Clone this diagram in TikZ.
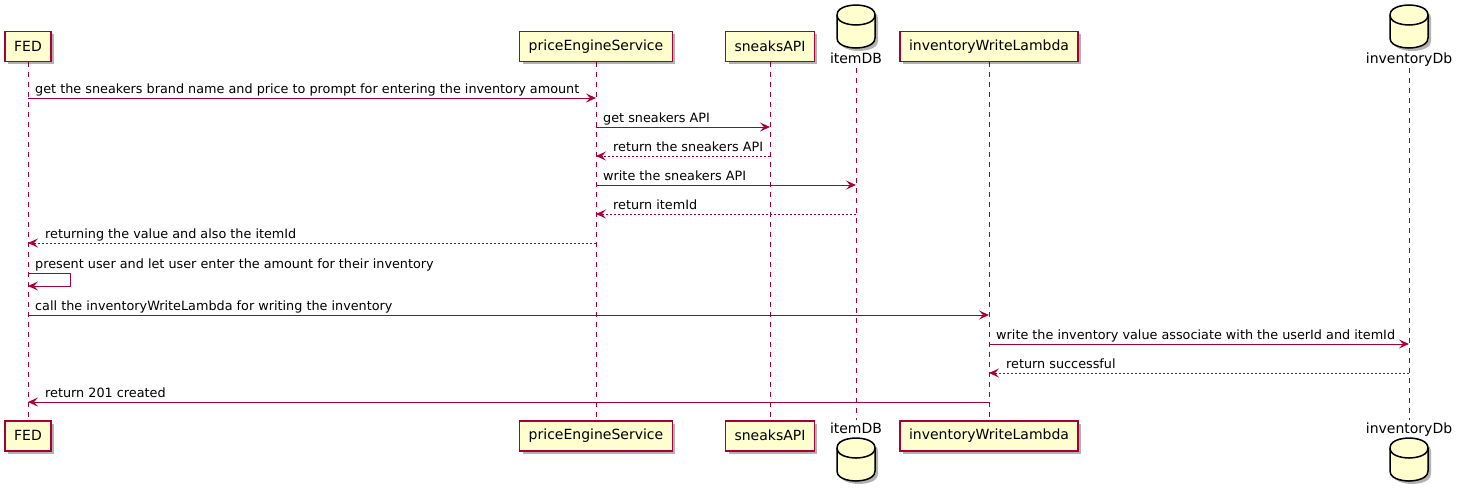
\documentclass[tikz,border=0pt]{standalone}
\usepackage{fontspec}
\setmainfont{DejaVu Sans}
\usetikzlibrary{arrows.meta,shadows}
\definecolor{umlred}{HTML}{A80036}
\definecolor{umlfill}{HTML}{FEFECE}
\tikzset{
  part/.style={draw=umlred, line width=1.5pt, fill=umlfill, minimum height=30pt,
    inner xsep=9pt, inner ysep=0pt, font=\fontsize{14}{16}\selectfont,
    drop shadow={shadow xshift=3pt, shadow yshift=-3pt, opacity=0.3, fill=black}},
  dbshape/.style={draw=black, line width=1.5pt, fill=umlfill,
    drop shadow={shadow xshift=3pt, shadow yshift=-3pt, opacity=0.3, fill=black}},
  dblabel/.style={anchor=base, inner sep=0pt, font=\fontsize{14}{16}\selectfont},
  life/.style={draw=umlred, line width=0.9pt, dash pattern=on 5pt off 5pt},
  msg/.style={draw=umlred, line width=0.9pt, -{Stealth[length=10pt,width=9pt,inset=4pt]}},
  ret/.style={msg, dash pattern=on 2pt off 2pt},
  lbl/.style={anchor=base west, inner sep=0pt, font=\fontsize{12.8}{15}\selectfont},
}
\newcommand{\dbcyl}[2]{% center x, top y
  \path[dbshape] (#1-19,#2+10) .. controls (#1-19,#2) and (#1,#2) .. (#1,#2)
    .. controls (#1,#2) and (#1+19,#2) .. (#1+19,#2+10) -- (#1+19,#2+33)
    .. controls (#1+19,#2+43) and (#1,#2+43) .. (#1,#2+43)
    .. controls (#1,#2+43) and (#1-19,#2+43) .. (#1-19,#2+33) -- cycle;
  \draw[line width=1.5pt] (#1-19,#2+10) .. controls (#1-19,#2+20) and (#1,#2+20) .. (#1,#2+20)
    .. controls (#1,#2+20) and (#1+19,#2+20) .. (#1+19,#2+10);
}
\begin{document}
\begin{tikzpicture}[x=1pt,y=-1pt]
\useasboundingbox (0,0) rectangle (1457,488);

% lifeline anchors
\coordinate (fedT) at (28,62);   \coordinate (fedB) at (28,420);
\coordinate (pesT) at (596,62);  \coordinate (pesB) at (596,420);
\coordinate (snkT) at (770,62);  \coordinate (snkB) at (770,420);
\coordinate (itmT) at (856,68);  \coordinate (itmB) at (856,420);
\coordinate (lamT) at (989,62);  \coordinate (lamB) at (989,420);
\coordinate (invT) at (1409,68); \coordinate (invB) at (1409,420);

\foreach \a/\b in {fedT/fedB,pesT/pesB,snkT/snkB,itmT/itmB,lamT/lamB,invT/invB}
  \draw[life] (\a) -- (\b);

% participants top
\node[part, anchor=south] (fed1) at (fedT) {FED};
\node[part, anchor=south] (pes1) at (pesT) {priceEngineService};
\node[part, anchor=south] (snk1) at (snkT) {sneaksAPI};
\node[part, anchor=south] (lam1) at (lamT) {inventoryWriteLambda};
\dbcyl{856}{5}
\node[dblabel] (itm1) at (856,63) {itemDB};
\dbcyl{1409}{5}
\node[dblabel] (inv1) at (1409,63) {inventoryDb};

% participants bottom
\node[part, anchor=north] (fed2) at (fedB) {FED};
\node[part, anchor=north] (pes2) at (pesB) {priceEngineService};
\node[part, anchor=north] (snk2) at (snkB) {sneaksAPI};
\node[part, anchor=north] (lam2) at (lamB) {inventoryWriteLambda};
\node[dblabel] (itm2) at (856,433) {itemDB};
\dbcyl{856}{438}
\node[dblabel] (inv2) at (1409,433) {inventoryDb};
\dbcyl{1409}{438}

% message endpoints
\coordinate (m1a) at (28,98);   \coordinate (m1b) at (596,98);
\coordinate (m2a) at (596,127); \coordinate (m2b) at (770,127);
\coordinate (m3a) at (770,156); \coordinate (m3b) at (596,156);
\coordinate (m4a) at (596,185); \coordinate (m4b) at (856,185);
\coordinate (m5a) at (856,214); \coordinate (m5b) at (596,214);
\coordinate (m6a) at (596,243); \coordinate (m6b) at (28,243);
\coordinate (m7a) at (28,273);  \coordinate (m7c) at (70,273);
\coordinate (m7d) at (70,286);  \coordinate (m7b) at (28,286);
\coordinate (m8a) at (28,315);  \coordinate (m8b) at (989,315);
\coordinate (m9a) at (989,344); \coordinate (m9b) at (1409,344);
\coordinate (m10a) at (1409,373); \coordinate (m10b) at (989,373);
\coordinate (m11a) at (989,402); \coordinate (m11b) at (28,402);

\draw[msg] (m1a) -- (m1b);
\draw[msg] (m2a) -- (m2b);
\draw[ret] (m3a) -- (m3b);
\draw[msg] (m4a) -- (m4b);
\draw[ret] (m5a) -- (m5b);
\draw[ret] (m6a) -- (m6b);
\draw[msg] (m7a) -- (m7c) -- (m7d) -- (m7b);
\draw[msg] (m8a) -- (m8b);
\draw[msg] (m9a) -- (m9b);
\draw[ret] (m10a) -- (m10b);
\draw[msg] (m11a) -- (m11b);

\node[lbl] (t1) at (35,93) {get the sneakers brand name and price to prompt for entering the inventory amount};
\node[lbl] (t2) at (603,122) {get sneakers API};
\node[lbl] (t3) at (613,151) {return the sneakers API};
\node[lbl] (t4) at (603,180) {write the sneakers API};
\node[lbl] (t5) at (613,209) {return itemId};
\node[lbl] (t6) at (45,238) {returning the value and also the itemId};
\node[lbl] (t7) at (35,268) {present user and let user enter the amount for their inventory};
\node[lbl] (t8) at (35,310) {call the inventoryWriteLambda for writing the inventory};
\node[lbl] (t9) at (996,339) {write the inventory value associate with the userId and itemId};
\node[lbl] (t10) at (1006,368) {return successful};
\node[lbl] (t11) at (45,397) {return 201 created};
\end{tikzpicture}
\end{document}
